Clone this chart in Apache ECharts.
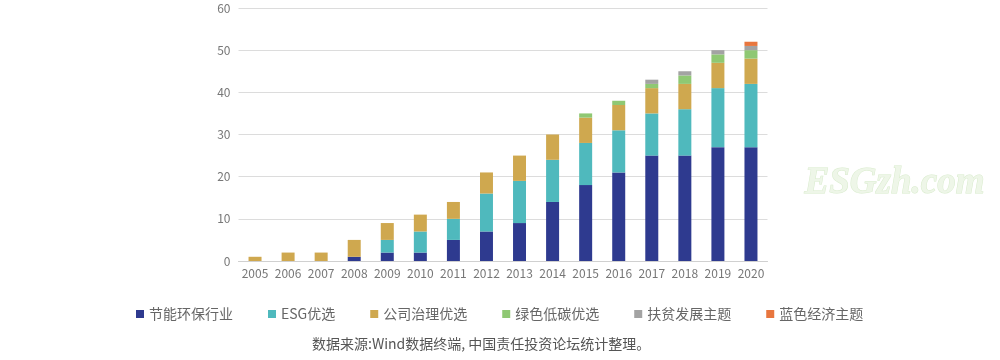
<!DOCTYPE html>
<html><head><meta charset="utf-8">
<script src="https://cdn.jsdelivr.net/npm/echarts@6/dist/echarts.min.js"></script>
<style>html,body{margin:0;padding:0;background:#fff}#c{width:1000px;height:360px}</style>
</head><body><div id="c"></div>
<script>
const years = ['2005','2006','2007','2008','2009','2010','2011','2012','2013','2014','2015','2016','2017','2018','2019','2020'];
const seriesNames = ['节能环保行业','ESG优选','公司治理优选','绿色低碳优选','扶贫发展主题','蓝色经济主题'];
const energy     = [0,0,0,1,2,2,5,7,9,14,18,21,25,25,27,27];
const esg        = [0,0,0,0,3,5,5,9,10,10,10,10,10,11,14,15];
const governance = [1,2,2,4,4,4,4,5,6,6,6,6,6,6,6,6];
const lowCarbon  = [0,0,0,0,0,0,0,0,0,0,1,1,1,2,2,2];
const poverty    = [0,0,0,0,0,0,0,0,0,0,0,0,1,1,1,1];
const blueEcon   = [0,0,0,0,0,0,0,0,0,0,0,0,0,0,0,1];
const colors = ['#2e3a8f','#4fb9bd','#cfa84f','#8fc873','#a3a3a3','#e8763e'];
const sourceText = '数据来源:Wind数据终端, 中国责任投资论坛统计整理。';
const watermark = 'ESGzh.com';

const dataSets = [energy, esg, governance, lowCarbon, poverty, blueEcon];
const chart = echarts.init(document.getElementById('c'));
chart.setOption({
  animation: false,
  color: colors,
  textStyle: {fontFamily: '"Noto Sans CJK SC","Noto Sans",sans-serif'},
  grid: {left: 238.5, right: 232.5, top: 8, bottom: 99, containLabel: false},
  legend: {
    top: 302, left: 131,
    itemWidth: 8, itemHeight: 8, itemGap: 35,
    icon: 'rect',
    textStyle: {fontSize: 14, color: '#666', padding: [0,0,0,0]},
    data: seriesNames
  },
  xAxis: {
    type: 'category', data: years,
    axisLine: {lineStyle: {color: '#d0d0d0'}},
    axisTick: {show: false},
    axisLabel: {color: '#777', fontSize: 12, margin: 6, interval: 0}
  },
  yAxis: {
    type: 'value', min: 0, max: 60, interval: 10,
    axisLine: {show: false}, axisTick: {show: false},
    axisLabel: {color: '#777', fontSize: 12, margin: 8},
    splitLine: {lineStyle: {color: '#dcdcdc'}}
  },
  series: seriesNames.map((n, i) => ({
    name: n, type: 'bar', stack: 'total', barWidth: 13,
    data: dataSets[i].map(v => v === 0 ? null : v)
  })),
  graphic: [
    {type: 'text', left: 312, top: 337,
     style: {text: sourceText, fontSize: 14, fill: '#555', fontFamily: '"Noto Sans CJK SC",sans-serif'}},
    {type: 'text', left: 804, top: 164,
     style: {text: watermark, fontSize: 37, fontWeight: 'bold', fontStyle: 'italic',
       fontFamily: '"Liberation Serif","DejaVu Serif",serif', fill: '#eef6e8', stroke: '#d8ebcc', lineWidth: 1}}
  ]
});
</script></body></html>
